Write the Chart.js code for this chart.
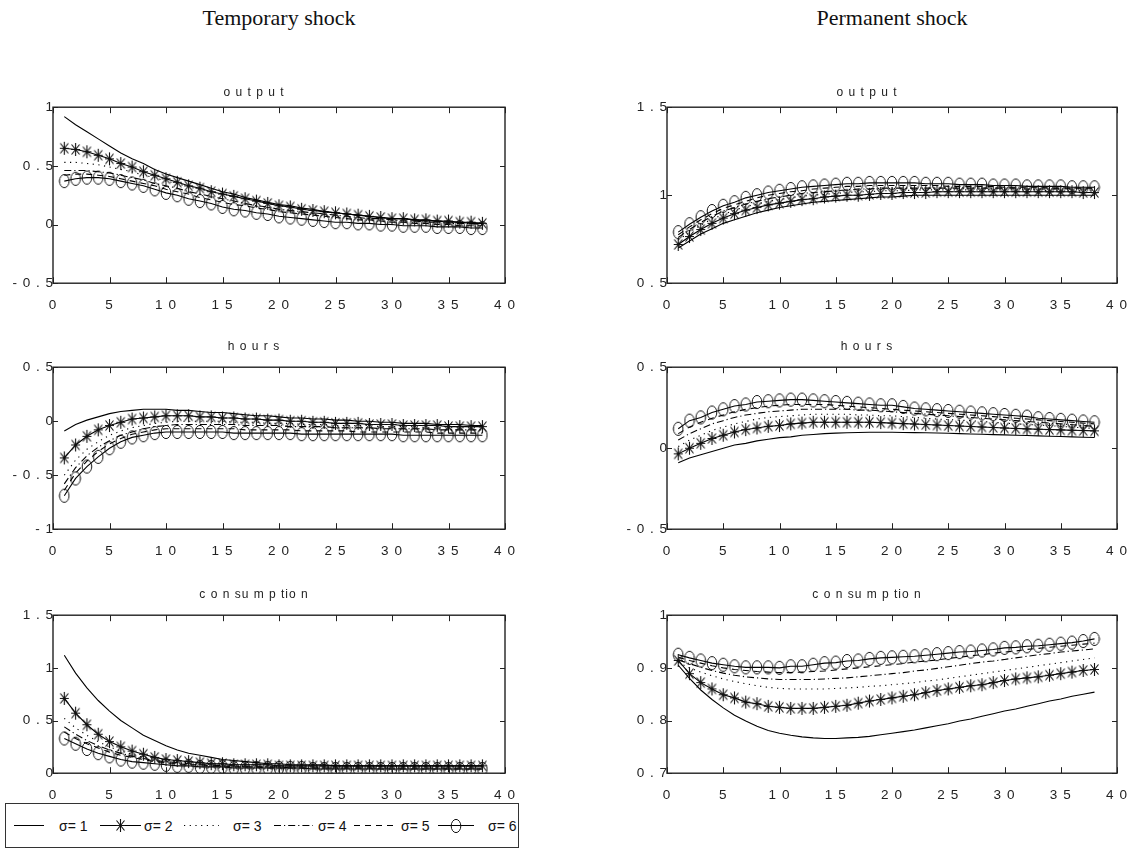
<!DOCTYPE html>
<html>
<head>
<meta charset="utf-8">
<script src="https://cdn.jsdelivr.net/npm/chart.js@4.4.1/dist/chart.umd.min.js"></script>
<style>
  body { margin: 0; background: #fff; width: 1137px; height: 855px; position: relative; overflow: hidden; }
  .head { position: absolute; top: 5px; width: 400px; text-align: center; line-height: 26px;
          font-family: "Liberation Serif", "DejaVu Serif", serif; font-size: 22px; color: #111; }
  .panel { position: absolute; }
  #legend { position: absolute; left: 5px; top: 803px; width: 514px; height: 45px; box-sizing: border-box;
            border: 1px solid #333; font-family: "Liberation Sans", Arial, sans-serif; font-size: 14px; color: #111; }
  #legend canvas, #legend span { position: absolute; }
  #legend span { top: 13px; line-height: 18px; }
</style>
</head>
<body>
<div class="head" style="left:79px">Temporary shock</div>
<div class="head" style="left:692px">Permanent shock</div>
<div id="legend"></div>

<script>
"use strict";

Chart.defaults.font.family = "'Liberation Sans', Arial, sans-serif";
Chart.defaults.color = "#222";
Chart.defaults.animation = false;

// periods after the shock
var steps = [1,2,3,4,5,6,7,8,9,10,11,12,13,14,15,16,17,18,19,20,21,22,23,24,25,26,27,28,29,30,31,32,33,34,35,36,37,38];
var xTicks = [0, 5, 10, 15, 20, 25, 30, 35, 40];
var sigmaLabels = ["σ= 1", "σ= 2", "σ= 3", "σ= 4", "σ= 5", "σ= 6"];

// temporary shock - output
var tOut1 = [0.92,0.85,0.79,0.73,0.67,0.61,0.56,0.52,0.47,0.43, 0.40,0.37,0.34,0.31,0.28,0.26,0.23,0.21,0.19,0.17, 0.16,0.14,0.13,0.11,0.10,0.09,0.08,0.07,0.06,0.05, 0.05,0.04,0.03,0.03,0.02,0.02,0.01,0.01];
var tOut2 = [0.65,0.64,0.62,0.59,0.56,0.52,0.49,0.45,0.42,0.39, 0.36,0.33,0.31,0.28,0.26,0.24,0.22,0.20,0.18,0.16, 0.15,0.13,0.12,0.11,0.10,0.09,0.08,0.07,0.06,0.05, 0.05,0.04,0.04,0.03,0.03,0.02,0.02,0.01];
var tOut3 = [0.53,0.53,0.52,0.51,0.49,0.47,0.45,0.42,0.40,0.37, 0.35,0.32,0.30,0.28,0.26,0.24,0.22,0.20,0.18,0.16, 0.15,0.13,0.12,0.11,0.10,0.09,0.08,0.07,0.06,0.05, 0.05,0.04,0.03,0.03,0.02,0.02,0.01,0.01];
var tOut4 = [0.46,0.46,0.46,0.45,0.44,0.42,0.40,0.38,0.35,0.33, 0.31,0.28,0.26,0.24,0.22,0.20,0.18,0.16,0.15,0.13, 0.12,0.11,0.10,0.09,0.08,0.07,0.06,0.05,0.05,0.04, 0.03,0.03,0.02,0.02,0.01,0.01,0.01,0.00];
var tOut5 = [0.42,0.43,0.43,0.42,0.41,0.39,0.37,0.35,0.33,0.30, 0.28,0.26,0.23,0.21,0.19,0.17,0.16,0.14,0.13,0.11, 0.10,0.09,0.08,0.07,0.06,0.05,0.04,0.04,0.03,0.02, 0.02,0.01,0.01,0.00,0.00,-0.01,-0.01,-0.01];
var tOut6 = [0.37,0.39,0.40,0.40,0.39,0.37,0.35,0.33,0.30,0.27, 0.25,0.22,0.20,0.18,0.15,0.13,0.12,0.10,0.09,0.07, 0.06,0.05,0.04,0.03,0.02,0.02,0.01,0.01,0.00,0.00, -0.01,-0.01,-0.01,-0.02,-0.02,-0.02,-0.03,-0.03];

// temporary shock - hours
var tHrs1 = [-0.09,-0.03,0.01,0.04,0.07,0.09,0.10,0.11,0.11,0.11, 0.10,0.10,0.09,0.08,0.08,0.07,0.06,0.05,0.05,0.04, 0.03,0.03,0.02,0.02,0.01,0.01,0.00,0.00,-0.01,-0.01, -0.02,-0.02,-0.02,-0.03,-0.03,-0.03,-0.04,-0.04];
var tHrs2 = [-0.34,-0.22,-0.14,-0.08,-0.04,-0.01,0.02,0.03,0.04,0.05, 0.05,0.05,0.04,0.04,0.03,0.03,0.02,0.02,0.01,0.01, 0.00,0.00,-0.01,-0.01,-0.02,-0.02,-0.02,-0.03,-0.03,-0.03, -0.04,-0.04,-0.04,-0.04,-0.05,-0.05,-0.05,-0.05];
var tHrs3 = [-0.50,-0.36,-0.26,-0.19,-0.13,-0.09,-0.06,-0.04,-0.02,-0.01, 0.00,0.00,0.00,0.00,0.00,-0.01,-0.01,-0.01,-0.02,-0.02, -0.02,-0.03,-0.03,-0.03,-0.04,-0.04,-0.04,-0.04,-0.05,-0.05, -0.05,-0.05,-0.06,-0.06,-0.06,-0.06,-0.06,-0.06];
var tHrs4 = [-0.58,-0.43,-0.32,-0.24,-0.18,-0.13,-0.10,-0.07,-0.05,-0.04, -0.03,-0.03,-0.03,-0.03,-0.03,-0.03,-0.04,-0.04,-0.04,-0.04, -0.05,-0.05,-0.05,-0.05,-0.06,-0.06,-0.06,-0.06,-0.07,-0.07, -0.07,-0.07,-0.07,-0.08,-0.08,-0.08,-0.08,-0.08];
var tHrs5 = [-0.64,-0.48,-0.37,-0.28,-0.21,-0.16,-0.12,-0.10,-0.08,-0.07, -0.07,-0.07,-0.07,-0.07,-0.07,-0.07,-0.08,-0.08,-0.08,-0.08, -0.08,-0.09,-0.09,-0.09,-0.09,-0.09,-0.10,-0.10,-0.10,-0.10, -0.10,-0.10,-0.10,-0.11,-0.11,-0.11,-0.11,-0.11];
var tHrs6 = [-0.69,-0.53,-0.42,-0.33,-0.25,-0.19,-0.15,-0.13,-0.11,-0.10, -0.10,-0.10,-0.10,-0.10,-0.10,-0.11,-0.11,-0.11,-0.11,-0.11, -0.11,-0.12,-0.12,-0.12,-0.12,-0.12,-0.12,-0.12,-0.12,-0.12, -0.13,-0.13,-0.13,-0.13,-0.13,-0.13,-0.13,-0.13];

// temporary shock - consumption
var tCon1 = [1.12,0.95,0.81,0.69,0.59,0.50,0.43,0.36,0.31,0.26, 0.22,0.19,0.17,0.15,0.13,0.12,0.11,0.10,0.09,0.09, 0.08,0.08,0.08,0.08,0.07,0.07,0.07,0.07,0.07,0.07, 0.07,0.07,0.07,0.07,0.07,0.07,0.07,0.07];
var tCon2 = [0.71,0.57,0.46,0.37,0.30,0.25,0.21,0.18,0.15,0.13, 0.12,0.11,0.10,0.09,0.09,0.08,0.08,0.08,0.08,0.07, 0.07,0.07,0.07,0.07,0.07,0.07,0.07,0.07,0.07,0.07, 0.07,0.07,0.07,0.07,0.07,0.07,0.07,0.07];
var tCon3 = [0.52,0.43,0.36,0.30,0.25,0.21,0.18,0.15,0.13,0.12, 0.11,0.10,0.09,0.08,0.08,0.07,0.07,0.07,0.06,0.06, 0.06,0.06,0.06,0.06,0.06,0.06,0.06,0.06,0.06,0.06, 0.06,0.06,0.06,0.06,0.06,0.06,0.06,0.06];
var tCon4 = [0.44,0.37,0.31,0.26,0.22,0.19,0.16,0.14,0.12,0.11, 0.10,0.09,0.08,0.08,0.07,0.07,0.06,0.06,0.06,0.06, 0.05,0.05,0.05,0.05,0.05,0.05,0.05,0.05,0.05,0.05, 0.05,0.05,0.05,0.05,0.05,0.05,0.05,0.05];
var tCon5 = [0.39,0.33,0.28,0.24,0.20,0.17,0.15,0.13,0.11,0.10, 0.09,0.08,0.08,0.07,0.07,0.06,0.06,0.06,0.05,0.05, 0.05,0.05,0.05,0.05,0.05,0.05,0.05,0.05,0.04,0.04, 0.04,0.04,0.04,0.04,0.04,0.04,0.04,0.04];
var tCon6 = [0.33,0.28,0.23,0.19,0.16,0.13,0.11,0.10,0.09,0.08, 0.07,0.07,0.06,0.06,0.06,0.05,0.05,0.05,0.05,0.05, 0.05,0.05,0.04,0.04,0.04,0.04,0.04,0.04,0.04,0.04, 0.04,0.04,0.04,0.04,0.04,0.04,0.04,0.04];

// permanent shock - output
var pOut1 = [0.70,0.74,0.78,0.81,0.84,0.86,0.88,0.90,0.915,0.93, 0.94,0.95,0.96,0.965,0.97,0.975,0.98,0.985,0.99,0.99, 0.995,1.0,1.0,1.0,1.0,1.0,1.0,1.0,1.0,1.0, 1.0,1.0,1.0,1.0,1.0,1.0,1.0,1.0];
var pOut2 = [0.72,0.765,0.805,0.84,0.87,0.895,0.915,0.93,0.945,0.955, 0.965,0.975,0.98,0.99,0.995,1.0,1.0,1.005,1.01,1.01, 1.015,1.015,1.015,1.02,1.02,1.02,1.02,1.02,1.02,1.02, 1.02,1.02,1.02,1.02,1.02,1.02,1.015,1.015];
var pOut3 = [0.745,0.79,0.83,0.865,0.89,0.915,0.935,0.95,0.965,0.975, 0.985,0.995,1.0,1.005,1.01,1.015,1.02,1.02,1.025,1.025, 1.025,1.03,1.03,1.03,1.03,1.03,1.03,1.03,1.03,1.03, 1.03,1.03,1.03,1.025,1.025,1.025,1.025,1.025];
var pOut4 = [0.76,0.805,0.845,0.88,0.91,0.93,0.95,0.965,0.98,0.99, 1.0,1.01,1.015,1.02,1.025,1.03,1.035,1.035,1.04,1.04, 1.04,1.04,1.04,1.04,1.04,1.04,1.04,1.04,1.04,1.04, 1.04,1.035,1.035,1.035,1.035,1.035,1.035,1.035];
var pOut5 = [0.775,0.82,0.86,0.895,0.925,0.945,0.965,0.985,1.0,1.01, 1.02,1.025,1.035,1.04,1.045,1.05,1.05,1.055,1.055,1.055, 1.055,1.055,1.055,1.055,1.05,1.05,1.05,1.05,1.05,1.045, 1.045,1.045,1.045,1.04,1.04,1.04,1.04,1.04];
var pOut6 = [0.79,0.835,0.875,0.91,0.94,0.96,0.985,1.0,1.015,1.025, 1.035,1.045,1.05,1.055,1.06,1.065,1.065,1.07,1.07,1.07, 1.07,1.07,1.065,1.065,1.065,1.06,1.06,1.06,1.055,1.055, 1.055,1.05,1.05,1.05,1.05,1.045,1.045,1.045];

// permanent shock - hours
var pHrs1 = [-0.09,-0.06,-0.04,-0.02,0.0,0.02,0.03,0.045,0.055,0.065, 0.07,0.08,0.085,0.09,0.093,0.095,0.097,0.098,0.098,0.098, 0.097,0.096,0.095,0.094,0.092,0.09,0.088,0.086,0.084,0.082, 0.08,0.078,0.076,0.074,0.072,0.07,0.068,0.066];
var pHrs2 = [-0.035,0.0,0.03,0.06,0.08,0.10,0.115,0.125,0.135,0.14, 0.15,0.155,0.16,0.16,0.16,0.16,0.16,0.16,0.158,0.155, 0.152,0.149,0.146,0.143,0.14,0.137,0.134,0.131,0.128,0.125, 0.122,0.119,0.117,0.115,0.113,0.111,0.109,0.107];
var pHrs3 = [0.01,0.05,0.08,0.11,0.13,0.15,0.165,0.18,0.19,0.195, 0.20,0.205,0.21,0.21,0.21,0.21,0.205,0.205,0.20,0.20, 0.195,0.19,0.185,0.18,0.177,0.173,0.17,0.165,0.16,0.155, 0.15,0.147,0.143,0.139,0.135,0.13,0.126,0.122];
var pHrs4 = [0.05,0.09,0.12,0.15,0.17,0.19,0.205,0.215,0.225,0.23, 0.235,0.24,0.24,0.24,0.24,0.24,0.235,0.235,0.23,0.225, 0.22,0.215,0.21,0.205,0.2,0.195,0.19,0.185,0.18,0.175, 0.17,0.165,0.16,0.155,0.15,0.145,0.14,0.135];
var pHrs5 = [0.09,0.13,0.16,0.185,0.205,0.225,0.24,0.25,0.26,0.265, 0.27,0.27,0.27,0.27,0.265,0.26,0.255,0.25,0.245,0.24, 0.235,0.23,0.225,0.22,0.215,0.21,0.205,0.2,0.195,0.19, 0.185,0.18,0.175,0.17,0.165,0.16,0.155,0.15];
var pHrs6 = [0.12,0.17,0.19,0.22,0.24,0.26,0.27,0.285,0.29,0.295, 0.30,0.30,0.295,0.29,0.285,0.28,0.275,0.27,0.265,0.265, 0.255,0.245,0.24,0.235,0.23,0.225,0.22,0.215,0.21,0.205, 0.20,0.195,0.185,0.18,0.175,0.17,0.165,0.16];

// permanent shock - consumption
var pCon1 = [0.905,0.88,0.858,0.84,0.824,0.81,0.799,0.789,0.781,0.776, 0.772,0.769,0.767,0.766,0.766,0.767,0.768,0.77,0.773,0.776, 0.779,0.782,0.786,0.79,0.794,0.799,0.803,0.808,0.813,0.818, 0.822,0.827,0.832,0.837,0.841,0.846,0.85,0.854];
var pCon2 = [0.914,0.889,0.872,0.86,0.849,0.843,0.835,0.832,0.827,0.825, 0.823,0.823,0.823,0.825,0.827,0.829,0.833,0.837,0.84,0.843, 0.846,0.849,0.853,0.857,0.86,0.863,0.866,0.868,0.872,0.876, 0.879,0.881,0.883,0.886,0.889,0.892,0.895,0.897];
var pCon3 = [0.91,0.90,0.892,0.885,0.879,0.874,0.87,0.866,0.863,0.861, 0.86,0.86,0.86,0.86,0.861,0.862,0.863,0.865,0.866,0.868, 0.870,0.872,0.875,0.877,0.88,0.883,0.886,0.889,0.892,0.895, 0.898,0.901,0.904,0.907,0.91,0.913,0.916,0.919];
var pCon4 = [0.915,0.908,0.901,0.895,0.89,0.886,0.883,0.881,0.879,0.878, 0.878,0.878,0.878,0.879,0.88,0.881,0.883,0.885,0.887,0.889, 0.891,0.894,0.896,0.899,0.902,0.905,0.908,0.911,0.913,0.916, 0.919,0.922,0.925,0.927,0.93,0.932,0.934,0.936];
var pCon5 = [0.92,0.914,0.909,0.904,0.90,0.897,0.895,0.893,0.892,0.891, 0.891,0.892,0.893,0.894,0.896,0.898,0.90,0.902,0.904,0.906, 0.908,0.911,0.913,0.915,0.918,0.92,0.923,0.925,0.928,0.93, 0.932,0.935,0.937,0.939,0.941,0.943,0.945,0.947];
var pCon6 = [0.925,0.919,0.914,0.909,0.906,0.903,0.901,0.901,0.901,0.90, 0.903,0.903,0.906,0.909,0.91,0.913,0.914,0.917,0.919,0.92, 0.921,0.922,0.924,0.926,0.928,0.93,0.931,0.933,0.935,0.938, 0.939,0.941,0.942,0.944,0.946,0.948,0.951,0.955];

// y tick values
var yTicksTOut = [-0.5, 0, 0.5, 1];
var yTicksTHrs = [-1, -0.5, 0, 0.5];
var yTicksTCon = [0, 0.5, 1, 1.5];
var yTicksPOut = [0.5, 1, 1.5];
var yTicksPHrs = [-0.5, 0, 0.5];
var yTicksPCon = [0.7, 0.8, 0.9, 1];

// markers: asterisk and (tall) circle
function makeStar() {
  var c = document.createElement("canvas");
  c.width = 11; c.height = 15;
  var g = c.getContext("2d");
  g.strokeStyle = "#111"; g.lineWidth = 1.1;
  g.beginPath();
  g.moveTo(5.5, 1); g.lineTo(5.5, 14);
  g.moveTo(1, 7.5); g.lineTo(10, 7.5);
  g.moveTo(1.5, 2.5); g.lineTo(9.5, 12.5);
  g.moveTo(9.5, 2.5); g.lineTo(1.5, 12.5);
  g.stroke();
  return c;
}
function makeRing() {
  var c = document.createElement("canvas");
  c.width = 12; c.height = 16;
  var g = c.getContext("2d");
  g.strokeStyle = "#111"; g.lineWidth = 1;
  g.beginPath();
  g.ellipse(6, 8, 4.8, 6.6, 0, 0, Math.PI * 2);
  g.stroke();
  return c;
}
var starImg = makeStar();
var ringImg = makeRing();

var lineStyles = [
  { dash: [], marker: null },
  { dash: [], marker: starImg },
  { dash: [1.2, 4.5], marker: null },
  { dash: [7, 3, 1.2, 3], marker: null },
  { dash: [6, 5], marker: null },
  { dash: [], marker: ringImg }
];

function spaced(v) {
  return String(v).split("").join(" ");
}

// box round the plot with inward ticks on all four sides
var framePlugin = {
  id: "frame",
  beforeDraw: function (chart) {
    chart.ctx.letterSpacing = "1px";
  },
  afterDraw: function (chart) {
    var a = chart.chartArea, ctx = chart.ctx;
    var sx = chart.scales.x, sy = chart.scales.y;
    ctx.save();
    ctx.strokeStyle = "#222";
    ctx.lineWidth = 1;
    ctx.beginPath();
    sx.ticks.forEach(function (t) {
      var px = Math.round(sx.getPixelForValue(t.value)) + 0.5;
      ctx.moveTo(px, a.top); ctx.lineTo(px, a.top + 6);
      ctx.moveTo(px, a.bottom); ctx.lineTo(px, a.bottom - 6);
    });
    sy.ticks.forEach(function (t) {
      var py = Math.round(sy.getPixelForValue(t.value)) + 0.5;
      ctx.moveTo(a.left, py); ctx.lineTo(a.left + 5, py);
      ctx.moveTo(a.right, py); ctx.lineTo(a.right - 5, py);
    });
    ctx.stroke();
    ctx.lineWidth = 1.4;
    ctx.strokeRect(a.left, a.top, a.right - a.left, a.bottom - a.top);
    ctx.restore();
  }
};

var rows = [
  { top: 107, bottom: 283, gap: 15 },
  { top: 367, bottom: 529, gap: 21 },
  { top: 615, bottom: 773, gap: 21 }
];
var cols = [
  { left: 53, right: 505 },
  { left: 667, right: 1117 }
];

var panels = [
  { row: 0, col: 0, title: "o u t p u t", yTicks: yTicksTOut, series: [tOut1, tOut2, tOut3, tOut4, tOut5, tOut6] },
  { row: 1, col: 0, title: "h o u r s", yTicks: yTicksTHrs, series: [tHrs1, tHrs2, tHrs3, tHrs4, tHrs5, tHrs6] },
  { row: 2, col: 0, title: "c o n su m p tio n", yTicks: yTicksTCon, series: [tCon1, tCon2, tCon3, tCon4, tCon5, tCon6] },
  { row: 0, col: 1, title: "o u t p u t", yTicks: yTicksPOut, series: [pOut1, pOut2, pOut3, pOut4, pOut5, pOut6] },
  { row: 1, col: 1, title: "h o u r s", yTicks: yTicksPHrs, series: [pHrs1, pHrs2, pHrs3, pHrs4, pHrs5, pHrs6] },
  { row: 2, col: 1, title: "c o n su m p tio n", yTicks: yTicksPCon, series: [pCon1, pCon2, pCon3, pCon4, pCon5, pCon6] }
];

var titleSize = 12;
var titleH = titleSize * 1.2;
var yAxisW = 50, xAxisH = 30;

panels.forEach(function (p) {
  var r = rows[p.row], c = cols[p.col];
  var L = c.left - yAxisW;
  var T = r.top - r.gap - titleH / 2;
  var W = c.right - L + yAxisW;   // symmetric, so the title sits over the plot centre
  var H = r.bottom - T + xAxisH;

  var wrap = document.createElement("div");
  wrap.className = "panel";
  wrap.style.left = L + "px";
  wrap.style.top = T + "px";
  wrap.style.width = W + "px";
  wrap.style.height = H + "px";
  var cv = document.createElement("canvas");
  wrap.appendChild(cv);
  document.body.appendChild(wrap);

  var datasets = p.series.map(function (vals, i) {
    var st = lineStyles[i];
    return {
      label: sigmaLabels[i],
      data: vals,
      borderColor: "#000",
      borderWidth: 1.1,
      borderDash: st.dash,
      tension: 0,
      pointStyle: st.marker || "circle",
      pointRadius: st.marker ? 5 : 0,
      pointHoverRadius: 0
    };
  });

  new Chart(cv, {
    type: "line",
    data: { labels: steps, datasets: datasets },
    plugins: [framePlugin],
    options: {
      responsive: true,
      maintainAspectRatio: false,
      events: [],
      layout: { padding: { left: 0, top: 0, right: yAxisW, bottom: 0 } },
      plugins: {
        legend: { display: false },
        tooltip: { enabled: false },
        title: {
          display: true,
          text: p.title,
          color: "#222",
          font: { size: titleSize, weight: "normal" },
          padding: { top: 0, bottom: r.top - T - titleH }
        }
      },
      scales: {
        x: {
          type: "linear",
          min: 0,
          max: 40,
          grid: { display: false, drawTicks: false },
          border: { display: false },
          afterBuildTicks: function (s) { s.ticks = xTicks.map(function (v) { return { value: v }; }); },
          afterFit: function (s) { s.height = xAxisH; s.paddingLeft = 0; s.paddingRight = 0; },
          ticks: { padding: 14, font: { size: 13.5 }, color: "#222", maxRotation: 0, autoSkip: false, callback: spaced }
        },
        y: {
          min: p.yTicks[0],
          max: p.yTicks[p.yTicks.length - 1],
          grid: { display: false, drawTicks: false },
          border: { display: false },
          afterBuildTicks: function (s) { s.ticks = p.yTicks.map(function (v) { return { value: v }; }); },
          afterFit: function (s) { s.width = yAxisW; s.paddingTop = 0; s.paddingBottom = 0; },
          ticks: { padding: -1, font: { size: 13.5 }, color: "#222", autoSkip: false, callback: spaced }
        }
      }
    }
  });
});

// legend below the bottom-left panel
var legendItems = [
  { x0: 8, x1: 38, text: 53 },
  { x0: 94, x1: 135, text: 138 },
  { x0: 178, x1: 213, text: 227 },
  { x0: 268, x1: 307, text: 312 },
  { x0: 348, x1: 390, text: 395 },
  { x0: 432, x1: 468, text: 482 }
];
var legend = document.getElementById("legend");
legendItems.forEach(function (it, i) {
  var st = lineStyles[i];
  var w = it.x1 - it.x0;
  var cv = document.createElement("canvas");
  cv.width = w; cv.height = 20;
  cv.style.left = it.x0 + "px";
  cv.style.top = "11px";
  var g = cv.getContext("2d");
  g.strokeStyle = "#000"; g.lineWidth = 1;
  g.setLineDash(st.dash);
  g.beginPath(); g.moveTo(0, 10.5); g.lineTo(w, 10.5); g.stroke();
  if (st.marker) {
    g.drawImage(st.marker, Math.round(w / 2 - st.marker.width / 2), Math.round(10.5 - st.marker.height / 2));
  }
  legend.appendChild(cv);
  var sp = document.createElement("span");
  sp.textContent = sigmaLabels[i];
  sp.style.left = it.text + "px";
  legend.appendChild(sp);
});
</script>
</body>
</html>
